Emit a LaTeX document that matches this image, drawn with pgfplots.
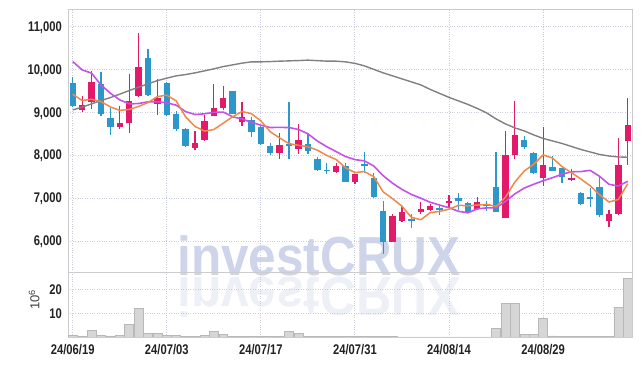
\documentclass[border=0pt]{standalone}
\usepackage{fontspec}
\setmainfont{Liberation Sans}
\newfontfamily\tickfont{Liberation Sans}[FakeStretch=0.80]
\newfontfamily\wmfont{Liberation Sans}[FakeStretch=0.9]
\usepackage{pgfplots}
\usepackage{pgfplotstable}
\pgfplotsset{compat=1.18}
\definecolor{upred}{HTML}{E3196A}
\definecolor{downblue}{HTML}{2D97C9}
\definecolor{maorange}{HTML}{F0884A}
\definecolor{mapurple}{HTML}{C452E8}
\definecolor{magray}{HTML}{808080}
\definecolor{gridc}{HTML}{C9CCDC}
\definecolor{framec}{HTML}{CCCCCC}
\definecolor{wmc}{RGB}{206,212,234}
\definecolor{volfill}{HTML}{D6D6D6}
\definecolor{voledge}{HTML}{B8B8B8}
\definecolor{tickc}{HTML}{222222}

\pgfplotstableread{
i o h l c
1 9040 9364 8992 9163
2 9240 9946 9070 9705
5 8651 9132 8605 8752
6 8736 9884 8512 9264
7 9364 10837 9341 10054
9 9178 9767 8922 9333
13 8155 8550 8109 8279
14 8341 8938 8333 8798
15 8915 9651 8899 9101
16 9085 9597 9054 9333
18 8781 9225 8667 8891
22 8057 8509 7904 8237
24 8143 8726 8027 8353
28 7615 7810 7580 7748
30 7382 7554 7321 7554
34 5984 6640 5984 6583
35 6473 6800 6450 6676
37 6676 6910 6630 6753
38 6723 6870 6700 6809
40 6879 7072 6800 6932
43 6746 7032 6720 6902
46 6544 8570 6530 8004
47 7997 9269 7911 8470
50 7475 8663 7282 7771
53 7421 7671 7400 7475
57 6474 6723 6320 6622
58 6622 8393 6610 7771
59 8337 9325 7771 8703
}\upT

\pgfplotstableread{
i o h l c
0 9674 9814 9116 9147
3 9659 9930 8900 8946
4 8853 9093 8473 8643
8 10264 10465 9364 9403
10 9682 9700 8900 8922
11 8946 9016 8550 8597
12 8597 8628 8178 8202
17 9481 9500 8953 8953
19 8822 8884 8419 8543
20 8656 8680 8240 8267
21 8213 8290 8004 8057
23 8250 9231 7904 8220
25 8260 8510 8035 8104
26 7910 7960 7640 7661
27 7660 7810 7560 7624
29 7748 7810 7382 7382
31 7800 8081 7577 7760
32 7468 7577 6995 7032
33 6706 6939 5698 5984
36 6520 6630 6296 6483
39 6770 6856 6600 6730
41 7010 7112 6723 6940
42 6879 6900 6670 6683
44 6850 6940 6700 6816
45 7251 8067 6683 6683
48 8353 8446 8140 8183
49 8058 8080 7570 7592
51 7717 7980 7638 7640
52 7694 7700 7344 7484
54 7112 7140 6850 6863
55 7018 7228 6800 6972
56 7251 7498 6552 6606
}\downT

\pgfplotstableread{
i ma5 ma10 ma60
0 9418 10177 9052
1 9270 9984 9115
2 9300 9907 9192
3 9246 9634 9269
4 9121 9441 9338
5 9042 9285 9418
6 9062 9192 9502
7 9132 9200 9581
8 9223 9240 9658
9 9361 9241 9734
10 9395 9219 9790
11 9262 9162 9844
12 8891 9012 9874
13 8667 8945 9914
14 8560 8960 9960
15 8595 8995 10007
16 8743 9002 10060
17 8893 8892 10100
18 9015 8841 10140
19 8964 8762 10170
20 8797 8696 10170
21 8542 8642 10177
22 8399 8646 10186
23 8266 8641 10193
24 8228 8596 10200
25 8195 8496 10210
26 8116 8329 10198
27 7993 8196 10186
28 7898 8082 10186
29 7704 7966 10170
30 7594 7895 10135
31 7617 7866 10077
32 7498 7746 9995
33 7145 7522 9914
34 6986 7345 9844
35 6810 7202 9774
36 6552 7084 9704
37 6496 6997 9634
38 6661 6903 9529
39 6690 6838 9436
40 6741 6776 9343
41 6833 6692 9262
42 6819 6657 9180
43 6837 6749 9087
44 6855 6772 8982
45 6805 6773 8842
46 7018 6925 8726
47 7375 7097 8633
48 7631 7234 8563
49 7786 7321 8470
50 8004 7404 8388
51 7931 7474 8330
52 7734 7555 8272
53 7592 7612 8202
54 7447 7617 8132
55 7287 7645 8074
56 7080 7506 8015
57 6908 7321 7980
58 6967 7280 7957
59 7335 7391 7950
}\maT

\pgfplotstableread{
i v
0 0.6
1 0.2
2 2.7
3 0.6
4 0.5
5 0.6
6 5.2
7 12.0
8 1.4
9 1.4
10 0.7
11 0.6
12 0.2
13 0.2
14 0.6
15 2.3
16 1.1
17 0.3
18 0.3
19 0.3
20 0.2
21 0.3
22 0.3
23 2.3
24 1.4
25 0.4
26 0.4
27 0.2
28 0.2
29 0.2
30 0.2
31 0.4
32 0.4
33 0.4
34 0.4
35 0.1
36 0.1
37 0.1
38 0.1
39 0.1
40 0.1
41 0.1
42 0.1
43 0.1
44 0.1
45 3.5
46 14.1
47 14.1
48 1.1
49 1.1
50 7.8
51 0.5
52 0.3
53 0.3
54 0.3
55 0.3
56 0.3
57 0.2
58 12.4
59 24.6
}\volT

\pgfplotsset{
  candle/.style n args={2}{draw=none, forget plot,
    error bars/.cd, y dir=both, y explicit, error mark=none,
    error bar style={draw=#1, line width=#2}},
}

\begin{document}
\begin{tikzpicture}
\useasboundingbox (0,0) rectangle (642pt,366pt);
% watermark
\node[anchor=base, text=wmc, inner sep=0pt, font=\wmfont\bfseries\fontsize{55}{55}\selectfont] at (319pt,90pt) {investCRUX};
\node[anchor=base, yscale=-1, text=wmc, opacity=0.35, inner sep=0pt, font=\wmfont\bfseries\fontsize{55}{55}\selectfont] at (319pt,88pt) {investCRUX};

\begin{axis}[
  at={(68pt,94pt)}, anchor=south west, scale only axis,
  width=564pt, height=263pt,
  xmin=-0.5, xmax=59.45, ymin=5280, ymax=11400,
  xtick={0,10,...,50}, xticklabels={},
  ytick={6000,7000,...,11000},
  scaled y ticks=false,
  grid=major, grid style={dotted, gridc, line width=0.9pt},
  axis line style={framec, line width=0.8pt},
  major tick length=0pt,
  yticklabel style={font=\tickfont\bfseries\fontsize{14}{15}\selectfont, text=tickc, anchor=east, inner sep=0pt, text depth=0pt, xshift=-6pt},
  /pgf/number format/.cd, 1000 sep={,}, assume math mode=true,
]
% wicks
\addplot [candle={upred}{1.2pt}] table [x=i, y expr=(\thisrow{h}+\thisrow{l})/2, y error expr=(\thisrow{h}-\thisrow{l})/2] {\upT};
\addplot [candle={downblue}{1.2pt}] table [x=i, y expr=(\thisrow{h}+\thisrow{l})/2, y error expr=(\thisrow{h}-\thisrow{l})/2] {\downT};
% bodies
\addplot [candle={upred}{6.4pt}] table [x=i, y expr=(\thisrow{o}+\thisrow{c})/2, y error expr=abs(\thisrow{c}-\thisrow{o})/2] {\upT};
\addplot [candle={downblue}{6.4pt}] table [x=i, y expr=(\thisrow{o}+\thisrow{c})/2, y error expr=abs(\thisrow{c}-\thisrow{o})/2] {\downT};
% moving averages
\addplot [magray, line width=1.4pt, line join=round] table [x=i, y=ma60] {\maT};
\addplot [mapurple, line width=1.6pt, line join=round] table [x=i, y=ma10] {\maT};
\addplot [maorange, line width=1.5pt, line join=round] table [x=i, y=ma5] {\maT};
\end{axis}

\begin{axis}[
  at={(68pt,29pt)}, anchor=south west, scale only axis,
  width=564pt, height=65pt,
  xmin=-0.5, xmax=59.45, ymin=0, ymax=27.4,
  xtick={0,10,...,50},
  xticklabels={24/06/19,24/07/03,24/07/17,24/07/31,24/08/14,24/08/29},
  ytick={10,20},
  grid=major, grid style={dotted, gridc, line width=0.9pt},
  axis line style={framec, line width=0.8pt},
  major tick length=0pt,
  yticklabel style={font=\tickfont\bfseries\fontsize{14}{15}\selectfont, text=tickc, anchor=east, inner sep=0pt, text depth=0pt, xshift=-6pt},
  xticklabel style={font=\tickfont\bfseries\fontsize{14}{15}\selectfont, text=tickc, anchor=north, inner sep=0pt, yshift=-7pt},
  ylabel={10\textsuperscript{6}},
  ylabel style={at={(rel axis cs:-0.060,0.57)}, anchor=center, font=\fontsize{13}{14}\selectfont, text=black!75},
  /pgf/number format/assume math mode=true,
]
\addplot [ybar, bar width=0.95, bar shift=0pt, fill=volfill, draw=voledge, line width=0.5pt] table [x=i, y=v] {\volT};
\end{axis}
\end{tikzpicture}
\end{document}
